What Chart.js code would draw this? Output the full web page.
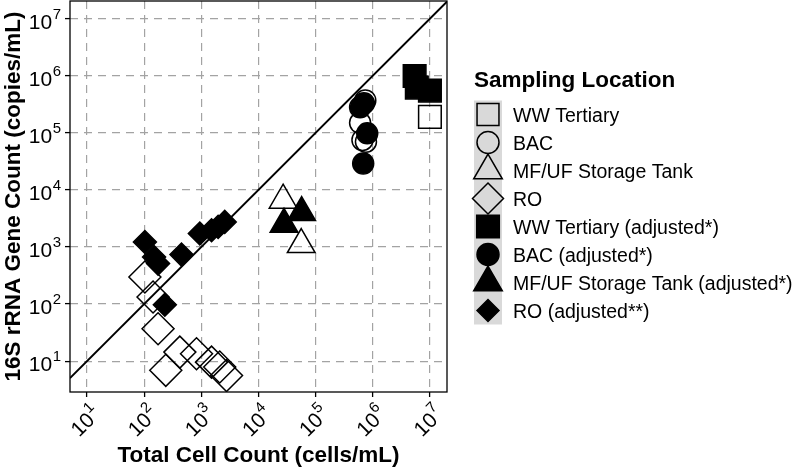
<!DOCTYPE html>
<html>
<head>
<meta charset="utf-8">
<script src="https://cdn.jsdelivr.net/npm/chart.js@4.4.1/dist/chart.umd.min.js"></script>
<style>
  html, body { margin: 0; padding: 0; background: #fff; }
</style>
</head>
<body>
<canvas id="c" width="796" height="471"></canvas>
<script>
// 축 범위와 눈금 (10^n)
const tickExponents = [1, 2, 3, 4, 5, 6, 7];
const xRange = [5.04, 1.99e7];
const yRange = [2.88, 2.04e7];
const identityLine = [5.04, 1.99e7];

// 원본 측정값 (속이 빈 기호)
const wwTertiaryX = [1.0e7];
const wwTertiaryY = [1.9e5];
const bacX = [7.4e5, 6.0e5, 6.6e5, 7.6e5];
const bacY = [3.7e5, 1.5e5, 7.5e4, 7.0e4];
const mfufX = [2.7e4, 5.6e4];
const mfufY = [6.6e3, 1.1e3];
const roX = [103, 143, 175, 421, 239, 824, 1510, 2100, 2760];
const roY = [298, 133, 37, 14.4, 6.9, 13.5, 9.6, 7.9, 5.6];

// 보정값 (채운 기호)
const wwAdjX = [5.4e6, 5.9e6, 1.0e7];
const wwAdjY = [9.9e5, 6.2e5, 5.5e5];
const bacAdjX = [6.0e5, 7.0e5, 8.0e5, 6.8e5];
const bacAdjY = [2.8e5, 3.3e5, 9.8e4, 2.9e4];
const mfufAdjX = [2.8e4, 5.7e4];
const mfufAdjY = [2.5e3, 4.0e3];
const roAdjX = [103, 149, 175, 450, 230, 942, 1510, 1970, 2570];
const roAdjY = [1220, 668, 512, 736, 97.5, 1720, 1960, 2250, 2750];

const FONT = "'Liberation Sans', Arial, Helvetica, sans-serif";

// r = 그래프 안 크기, lr = 범례 크기
const series = [
  { label: "WW Tertiary", xs: wwTertiaryX, ys: wwTertiaryY, style: "rect", r: 16, lr: 15.5, filled: false },
  { label: "BAC", xs: bacX, ys: bacY, style: "circle", r: 10.5, lr: 11, filled: false },
  { label: "MF/UF Storage Tank", xs: mfufX, ys: mfufY, style: "triangle", r: 16, lr: 16.5, filled: false },
  { label: "RO", xs: roX, ys: roY, style: "rectRot", r: 16, lr: 15.5, filled: false },
  { label: "WW Tertiary (adjusted*)", xs: wwAdjX, ys: wwAdjY, style: "rect", r: 16, lr: 16, filled: true },
  { label: "BAC (adjusted*)", xs: bacAdjX, ys: bacAdjY, style: "circle", r: 10.5, lr: 11, filled: true },
  { label: "MF/UF Storage Tank (adjusted*)", xs: mfufAdjX, ys: mfufAdjY, style: "triangle", r: 16, lr: 16.5, filled: true },
  { label: "RO (adjusted**)", xs: roAdjX, ys: roAdjY, style: "rectRot", r: 11.5, lr: 11, filled: true },
];

const datasets = series.map((s) => ({
  label: s.label,
  data: s.xs.map((x, j) => ({ x, y: s.ys[j] })),
  pointStyle: s.style,
  pointRadius: s.r,
  pointHoverRadius: s.r,
  pointBorderWidth: 1.5,
  pointBorderColor: "#000",
  pointBackgroundColor: s.filled ? "#000" : "rgba(0,0,0,0)",
  order: s.filled ? 1 : 2,
}));
datasets.push({
  label: "1:1",
  data: identityLine.map((v) => ({ x: v, y: v })),
  showLine: true,
  borderColor: "#000",
  borderWidth: 2,
  pointRadius: 0,
  order: 3,
});

// 10 + 위첨자 지수
function drawPow(ctx, e, endX, baseY) {
  ctx.textAlign = "right";
  ctx.textBaseline = "alphabetic";
  ctx.font = `15px ${FONT}`;
  const ew = ctx.measureText(String(e)).width;
  ctx.fillText(String(e), endX, baseY - 10);
  ctx.font = `21px ${FONT}`;
  ctx.fillText("10", endX - ew - 0.5, baseY);
}

const decor = {
  id: "decor",
  afterDraw(chart) {
    const { ctx, chartArea: a, scales } = chart;
    ctx.save();
    ctx.strokeStyle = "#000";
    ctx.lineWidth = 1.3;
    ctx.strokeRect(a.left, a.top, a.right - a.left, a.bottom - a.top);

    ctx.fillStyle = "#000";
    tickExponents.forEach((e) => {
      const y = scales.y.getPixelForValue(10 ** e);
      drawPow(ctx, e, a.left - 9, y + 10);
      const x = scales.x.getPixelForValue(10 ** e);
      ctx.save();
      ctx.translate(x + 15, a.bottom + 23);
      ctx.rotate(-Math.PI / 4);
      drawPow(ctx, e, 0, 0);
      ctx.restore();
    });

    // 범례
    const lx = 474, y0 = 114.5, step = 28;
    ctx.fillStyle = "#d9d9d9";
    ctx.fillRect(lx, y0 - 14, 28, step * series.length);
    ctx.fillStyle = "#000";
    ctx.textAlign = "left";
    ctx.textBaseline = "alphabetic";
    ctx.font = `bold 22.5px ${FONT}`;
    ctx.fillText("Sampling Location", lx, 86.7);
    series.forEach((s, i) => {
      const cy = y0 + i * step;
      ctx.fillStyle = s.filled ? "#000" : "rgba(0,0,0,0)";
      ctx.strokeStyle = "#000";
      ctx.lineWidth = 1.5;
      Chart.helpers.drawPoint(ctx, { pointStyle: s.style, radius: s.lr, rotation: 0, borderWidth: 1.5 }, lx + 14, cy);
      ctx.fillStyle = "#000";
      ctx.font = `19.5px ${FONT}`;
      ctx.fillText(s.label, 513, cy + 7);
    });
    ctx.restore();
  },
};

const gridOpts = {
  color: "#a3a3a3",
  lineWidth: 1.2,
  tickLength: 5,
  tickColor: "#000",
  tickWidth: 1.3,
};

new Chart(document.getElementById("c"), {
  type: "scatter",
  data: { datasets },
  options: {
    responsive: false,
    animation: false,
    devicePixelRatio: 1,
    layout: { autoPadding: false, padding: { top: 1, right: 349, bottom: 0, left: 0 } },
    plugins: { legend: { display: false }, tooltip: { enabled: false } },
    scales: {
      x: {
        type: "logarithmic",
        position: "bottom",
        min: xRange[0],
        max: xRange[1],
        afterBuildTicks: (s) => { s.ticks = tickExponents.map((e) => ({ value: 10 ** e })); },
        afterFit: (s) => { s.height = 79; },
        ticks: { display: false },
        grid: gridOpts,
        border: { display: false, dash: [8, 6] },
        title: {
          display: true,
          text: "Total Cell Count (cells/mL)",
          color: "#000",
          font: { family: FONT, size: 22.5, weight: "bold" },
          padding: { top: 0, bottom: 2 },
        },
      },
      y: {
        type: "logarithmic",
        position: "left",
        min: yRange[0],
        max: yRange[1],
        afterBuildTicks: (s) => { s.ticks = tickExponents.map((e) => ({ value: 10 ** e })); },
        afterFit: (s) => { s.width = 70; },
        ticks: { display: false },
        grid: gridOpts,
        border: { display: false, dash: [8, 6] },
        title: {
          display: true,
          text: "16S rRNA Gene Count (copies/mL)",
          color: "#000",
          font: { family: FONT, size: 22.5, weight: "bold" },
          padding: { top: 0, bottom: 0 },
        },
      },
    },
  },
  plugins: [decor],
});
</script>
</body>
</html>
